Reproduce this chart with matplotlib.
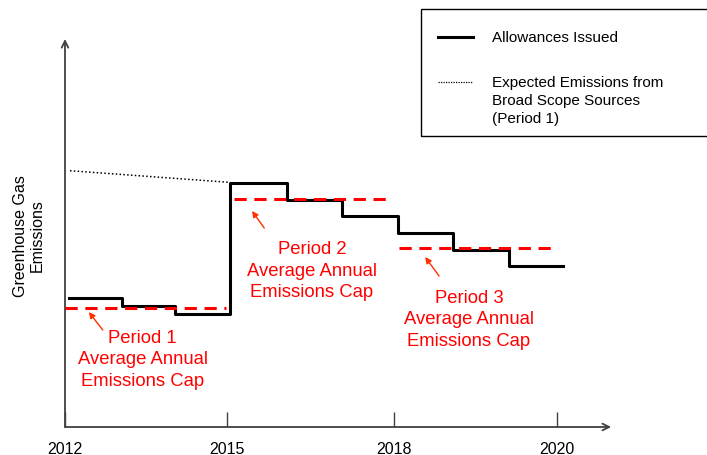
import matplotlib.pyplot as plt
from matplotlib.lines import Line2D
from matplotlib.patches import Rectangle

plt.rcParams['font.family'] = ['Liberation Sans', 'DejaVu Sans']

# allowances issued each year (schematic units), step starts
step_years = [2012.07, 2013.03, 2013.98, 2014.97, 2016.0, 2017.0, 2018.0, 2019.0, 2020.0, 2020.97]
allowances = [128.7, 121.3, 113.0, 243.7, 227.3, 211.3, 193.7, 177.3, 161.3]

# average annual caps per period
cap_start = [2012.0, 2015.05, 2018.02]
cap_end = [2014.9, 2017.88, 2020.88]
cap_value = [119.3, 228.0, 178.7]

# expected emissions from broad scope sources (period 1)
expected_years = [2012.09, 2014.95]
expected_values = [256.3, 244.7]

tick_pos = [2012, 2014.92, 2017.93, 2020.86]
tick_labels = ['2012', '2015', '2018', '2020']

period_labels = ['Period 1\nAverage Annual\nEmissions Cap',
                 'Period 2\nAverage Annual\nEmissions Cap',
                 'Period 3\nAverage Annual\nEmissions Cap']
label_xy = [(2013.40, 68), (2016.45, 157), (2019.28, 108)]
arrow_tip = [(2012.43, 115), (2015.37, 216), (2018.49, 170)]
arrow_tail = [(2012.68, 97), (2015.59, 199), (2018.74, 151)]

W, H = 707, 456
fig = plt.figure(figsize=(W / 100, H / 100), dpi=100)
ax = fig.add_axes([65 / W, (H - 428) / H, 555 / W, 400 / H])
ax.set_xlim(2012, 2022)
ax.set_ylim(0, 400)
for s in ax.spines.values():
    s.set_visible(False)

axis_col = '#404040'
# axes drawn as arrows
ax.annotate('', xy=(2021.84, 0), xytext=(2012, 0), annotation_clip=False,
            arrowprops=dict(arrowstyle='->', color=axis_col, lw=1.3, mutation_scale=12, shrinkA=0, shrinkB=0))
ax.annotate('', xy=(2012, 388), xytext=(2012, 0), annotation_clip=False,
            arrowprops=dict(arrowstyle='->', color=axis_col, lw=1.3, mutation_scale=12, shrinkA=0, shrinkB=0))

ax.set_xticks(tick_pos, tick_labels)
ax.set_yticks([])
ax.tick_params(axis='x', direction='in', length=11, width=1, color=axis_col, pad=10, labelsize=11.5)

# step line for allowances
ax.step(step_years, allowances + [allowances[-1]], where='post', color='black', lw=2.2, zorder=3)

# caps
for x0, x1, v in zip(cap_start, cap_end, cap_value):
    ax.plot([x0, x1], [v, v], color='red', lw=2.2, dashes=(4, 2.5), zorder=4)

ax.plot(expected_years, expected_values, color='black', lw=1.1, linestyle=(0, (1, 1.5)))

for txt, (tx, ty), tip, tail in zip(period_labels, label_xy, arrow_tip, arrow_tail):
    ax.text(tx, ty, txt, color='red', fontsize=13.3, ha='center', va='center', linespacing=1.32)
    ax.annotate('', xy=tip, xytext=tail,
                arrowprops=dict(arrowstyle='-|>', color='#FF3000', lw=1, mutation_scale=9, shrinkA=0, shrinkB=0))

fig.text(29 / W, 1 - 236 / H, 'Greenhouse Gas\nEmissions', rotation=90, fontsize=11.5,
         ha='center', va='center', linespacing=1.15)

# legend box
def fx(px):
    return px / W

def fy(py):
    return 1 - py / H

fig.patches.append(Rectangle((fx(421), fy(137)), fx(720) - fx(421), fy(10) - fy(137),
                             transform=fig.transFigure, fill=False, edgecolor='black', lw=1))
fig.lines.append(Line2D([fx(438), fx(473)], [fy(38), fy(38)], transform=fig.transFigure, color='black', lw=2.2))
fig.lines.append(Line2D([fx(438), fx(473)], [fy(83), fy(83)], transform=fig.transFigure, color='black',
                        lw=0.9, linestyle=(0, (1, 1))))
fig.text(fx(492), fy(38), 'Allowances Issued', fontsize=11, ha='left', va='center')
fig.text(fx(492), fy(101), 'Expected Emissions from\nBroad Scope Sources\n(Period 1)', fontsize=11,
         ha='left', va='center', linespacing=1.4)

fig.savefig('out.png', dpi=100)
